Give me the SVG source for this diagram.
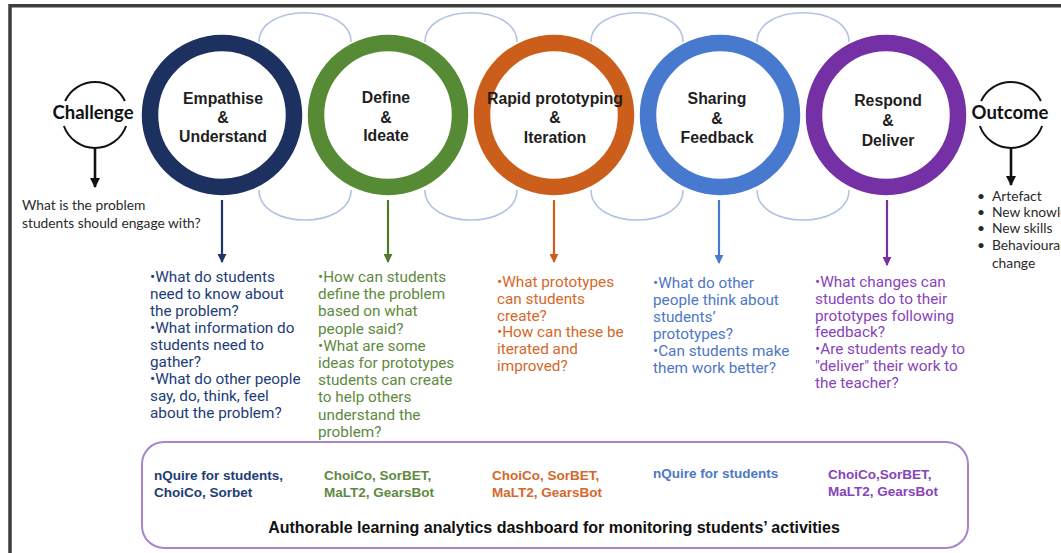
<svg xmlns="http://www.w3.org/2000/svg" width="1061" height="553" viewBox="0 0 1061 553">
  <defs>
    <style>
      .frame { fill: none; stroke: #3d3d3d; stroke-width: 3.5; }
      .loop { fill: none; stroke: #b3c3e3; stroke-width: 1.6; }
      .ring { fill: #ffffff; stroke-width: 16.5; }
      .label { font-family: "Liberation Sans", Arial, sans-serif; font-weight: bold; font-size: 15.8px; fill: #1e1e1e; text-anchor: middle; }
      .endpoint { font-family: Lato, "Liberation Sans", sans-serif; font-weight: bold; font-size: 18.5px; fill: #111111; text-anchor: middle; }
      .half { fill: none; stroke: #111111; stroke-width: 2; }
      .note { font-family: Lato, "Liberation Sans", sans-serif; font-size: 13.8px; fill: #2a2a2a; }
      .q { font-family: Roboto, "Liberation Sans", Arial, sans-serif; font-size: 15.3px; }
      .tool { font-family: "Liberation Sans", Arial, sans-serif; font-weight: bold; font-size: 13.5px; }
      .navy { fill: #223c77; }
      .green { fill: #5e8a40; }
      .orange { fill: #d5682a; }
      .blue { fill: #4e77c6; }
      .purple { fill: #8744bb; }
      .stem { fill: none; stroke-width: 2.2; }
    </style>
    <marker id="arr-black" viewBox="0 0 10 10" refX="9" refY="5" markerWidth="10" markerHeight="10" markerUnits="userSpaceOnUse" orient="auto">
      <path d="M0,0 L10,5 L0,10 z" fill="#111111"/>
    </marker>
    <marker id="arr-navy" viewBox="0 0 10 10" refX="9" refY="5" markerWidth="9" markerHeight="9" markerUnits="userSpaceOnUse" orient="auto">
      <path d="M0,0 L10,5 L0,10 z" fill="#1f3566"/>
    </marker>
    <marker id="arr-green" viewBox="0 0 10 10" refX="9" refY="5" markerWidth="9" markerHeight="9" markerUnits="userSpaceOnUse" orient="auto">
      <path d="M0,0 L10,5 L0,10 z" fill="#4f7a2e"/>
    </marker>
    <marker id="arr-orange" viewBox="0 0 10 10" refX="9" refY="5" markerWidth="9" markerHeight="9" markerUnits="userSpaceOnUse" orient="auto">
      <path d="M0,0 L10,5 L0,10 z" fill="#cc5e1c"/>
    </marker>
    <marker id="arr-blue" viewBox="0 0 10 10" refX="9" refY="5" markerWidth="9" markerHeight="9" markerUnits="userSpaceOnUse" orient="auto">
      <path d="M0,0 L10,5 L0,10 z" fill="#4779cf"/>
    </marker>
    <marker id="arr-purple" viewBox="0 0 10 10" refX="9" refY="5" markerWidth="9" markerHeight="9" markerUnits="userSpaceOnUse" orient="auto">
      <path d="M0,0 L10,5 L0,10 z" fill="#7530a6"/>
    </marker>
  </defs>

  <!-- page background and slide frame -->
  <rect x="0" y="0" width="1061" height="553" fill="#ffffff"/>
  <path class="frame" d="M 10 553 V 5.8 H 1061"/>

  <!-- connectors: looping arcs between the stages and the downward arrows -->
  <g id="connectors">
    <path class="loop" d="M 259 42 C 259 3, 351 3, 351 42"/>
    <path class="loop" d="M 425 42 C 425 3, 517 3, 517 42"/>
    <path class="loop" d="M 591 42 C 591 3, 683 3, 683 42"/>
    <path class="loop" d="M 757 42 C 757 3, 849 3, 849 42"/>
    <path class="loop" d="M 259 190 C 259 230, 351 230, 351 190"/>
    <path class="loop" d="M 425 190 C 425 230, 517 230, 517 190"/>
    <path class="loop" d="M 591 190 C 591 230, 683 230, 683 190"/>
    <path class="loop" d="M 757 190 C 757 230, 849 230, 849 190"/>

    <line x1="95" y1="148" x2="95" y2="187" stroke="#111111" stroke-width="2.6" marker-end="url(#arr-black)"/>
    <line x1="1011" y1="148" x2="1011" y2="185" stroke="#111111" stroke-width="2.6" marker-end="url(#arr-black)"/>
    <line class="stem" x1="222" y1="200" x2="222" y2="262" stroke="#1f3566" marker-end="url(#arr-navy)"/>
    <line class="stem" x1="388" y1="200" x2="388" y2="262" stroke="#4f7a2e" marker-end="url(#arr-green)"/>
    <line class="stem" x1="554" y1="200" x2="554" y2="262" stroke="#cc5e1c" marker-end="url(#arr-orange)"/>
    <line class="stem" x1="719" y1="200" x2="719" y2="263" stroke="#4779cf" marker-end="url(#arr-blue)"/>
    <line class="stem" x1="887" y1="200" x2="887" y2="265" stroke="#7530a6" marker-end="url(#arr-purple)"/>
  </g>

  <!-- start point -->
  <g id="challenge">
    <path class="half" d="M 65.1 101 A 33 33 0 0 1 124.9 101"/>
    <path class="half" d="M 63.9 126 A 33 33 0 0 0 126.1 126"/>
    <text class="endpoint" x="93" y="119">Challenge</text>
    <text class="note" x="22" y="210">What is the problem</text>
    <text class="note" x="22" y="228">students should engage with?</text>
  </g>

  <!-- stage 1 -->
  <g id="empathise">
    <circle class="ring" cx="222" cy="115" r="72" stroke="#1c3160"/>
    <text class="label" x="223" y="104">Empathise</text>
    <text class="label" x="223" y="123">&amp;</text>
    <text class="label" x="223" y="142">Understand</text>
    <text class="q navy" x="150" y="282">
      <tspan x="150">•What do students</tspan>
      <tspan x="150" dy="17">need to know about</tspan>
      <tspan x="150" dy="17">the problem?</tspan>
      <tspan x="150" dy="17">•What information do</tspan>
      <tspan x="150" dy="17">students need to</tspan>
      <tspan x="150" dy="17">gather?</tspan>
      <tspan x="150" dy="17">•What do other people</tspan>
      <tspan x="150" dy="17">say, do, think, feel</tspan>
      <tspan x="150" dy="17">about the problem?</tspan>
    </text>
  </g>

  <!-- stage 2 -->
  <g id="define">
    <circle class="ring" cx="388" cy="115" r="72" stroke="#568a35"/>
    <text class="label" x="386" y="103">Define</text>
    <text class="label" x="386" y="123">&amp;</text>
    <text class="label" x="386" y="141">Ideate</text>
    <text class="q green" x="318" y="282">
      <tspan x="318">•How can students</tspan>
      <tspan x="318" dy="17.2">define the problem</tspan>
      <tspan x="318" dy="17.2">based on what</tspan>
      <tspan x="318" dy="17.2">people said?</tspan>
      <tspan x="318" dy="17.2">•What are some</tspan>
      <tspan x="318" dy="17.2">ideas for prototypes</tspan>
      <tspan x="318" dy="17.2">students can create</tspan>
      <tspan x="318" dy="17.2">to help others</tspan>
      <tspan x="318" dy="17.2">understand  the</tspan>
      <tspan x="318" dy="17.2">problem?</tspan>
    </text>
  </g>

  <!-- stage 3 -->
  <g id="prototyping">
    <circle class="ring" cx="554" cy="115" r="72" stroke="#cc5e1c"/>
    <text class="label" x="555" y="104">Rapid prototyping</text>
    <text class="label" x="555" y="123">&amp;</text>
    <text class="label" x="555" y="143">Iteration</text>
    <text class="q orange" x="497" y="287">
      <tspan x="497">•What prototypes</tspan>
      <tspan x="497" dy="16.8">can students</tspan>
      <tspan x="497" dy="16.8">create?</tspan>
      <tspan x="497" dy="16.8">•How can these be</tspan>
      <tspan x="497" dy="16.8">iterated and</tspan>
      <tspan x="497" dy="16.8">improved?</tspan>
    </text>
  </g>

  <!-- stage 4 -->
  <g id="sharing">
    <circle class="ring" cx="720" cy="115" r="72" stroke="#4779cf"/>
    <text class="label" x="717" y="104">Sharing</text>
    <text class="label" x="717" y="124">&amp;</text>
    <text class="label" x="717" y="143">Feedback</text>
    <text class="q blue" x="653" y="288">
      <tspan x="653">•What do other</tspan>
      <tspan x="653" dy="17">people think about</tspan>
      <tspan x="653" dy="17">students’</tspan>
      <tspan x="653" dy="17">prototypes?</tspan>
      <tspan x="653" dy="17">•Can students make</tspan>
      <tspan x="653" dy="17">them work better?</tspan>
    </text>
  </g>

  <!-- stage 5 -->
  <g id="respond">
    <circle class="ring" cx="886" cy="115" r="72" stroke="#7530a6"/>
    <text class="label" x="888" y="106">Respond</text>
    <text class="label" x="888" y="126">&amp;</text>
    <text class="label" x="888" y="146">Deliver</text>
    <text class="q purple" x="815" y="287">
      <tspan x="815">•What changes can</tspan>
      <tspan x="815" dy="16.8">students do to their</tspan>
      <tspan x="815" dy="16.8">prototypes following</tspan>
      <tspan x="815" dy="16.8">feedback?</tspan>
      <tspan x="815" dy="16.8">•Are students ready to</tspan>
      <tspan x="815" dy="16.8">"deliver" their work to</tspan>
      <tspan x="815" dy="16.8">the teacher?</tspan>
    </text>
  </g>

  <!-- end point; the list runs past the right edge of the slide -->
  <g id="outcome">
    <path class="half" d="M 981.1 101 A 33 33 0 0 1 1040.9 101"/>
    <path class="half" d="M 979.9 126 A 33 33 0 0 0 1042.1 126"/>
    <text class="endpoint" x="1010" y="119">Outcome</text>
    <g class="note">
      <text x="977" y="201">•</text><text x="992" y="201">Artefact</text>
      <text x="977" y="217">•</text><text x="992" y="217">New knowledge</text>
      <text x="977" y="233">•</text><text x="992" y="233">New skills</text>
      <text x="977" y="250">•</text><text x="992" y="250">Behavioural</text>
      <text x="992" y="268">change</text>
    </g>
  </g>

  <!-- tools and dashboard panel -->
  <g id="tools">
    <rect x="142" y="442" width="826" height="106" rx="22" ry="22" fill="none" stroke="#a585cc" stroke-width="2"/>
    <text class="tool navy" x="154" y="480">nQuire for students,</text>
    <text class="tool navy" x="154" y="497">ChoiCo, Sorbet</text>
    <text class="tool green" x="324" y="480">ChoiCo, SorBET,</text>
    <text class="tool green" x="324" y="497">MaLT2, GearsBot</text>
    <text class="tool orange" x="492" y="480">ChoiCo, SorBET,</text>
    <text class="tool orange" x="492" y="497">MaLT2, GearsBot</text>
    <text class="tool blue" x="653" y="478">nQuire for students</text>
    <text class="tool purple" x="828" y="479">ChoiCo,SorBET,</text>
    <text class="tool purple" x="828" y="496">MaLT2, GearsBot</text>
    <text x="554" y="533" text-anchor="middle" font-family="'Liberation Sans', Arial, sans-serif" font-weight="bold" font-size="16px" fill="#111111">Authorable learning analytics dashboard for monitoring students’ activities</text>
  </g>
</svg>
